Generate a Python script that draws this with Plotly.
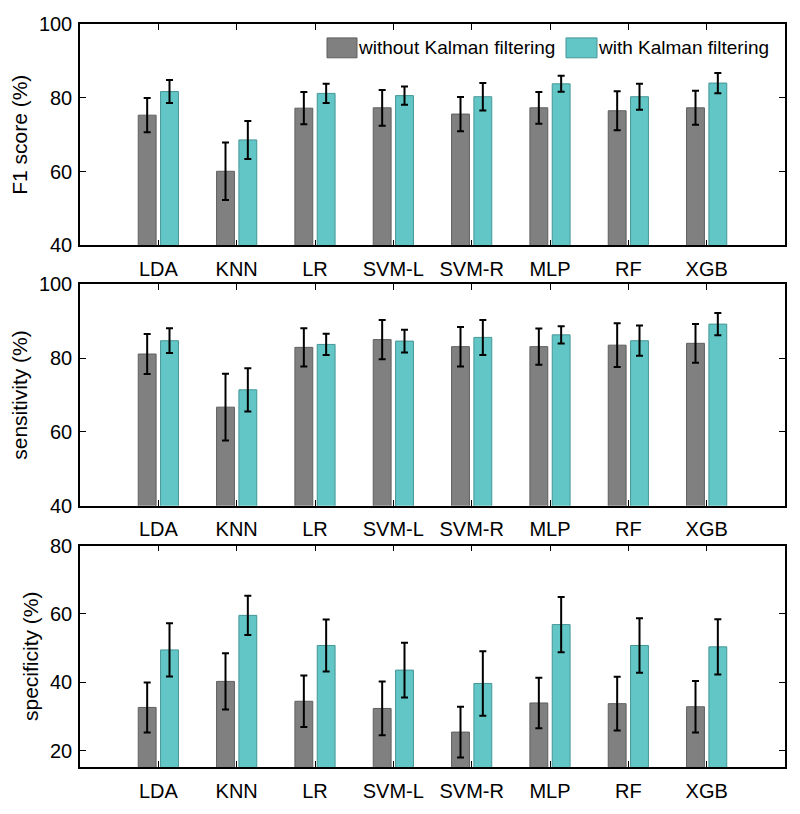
import plotly.graph_objects as go

categories = ["LDA", "KNN", "LR", "SVM-L", "SVM-R", "MLP", "RF", "XGB"]
series_names = ["without Kalman filtering", "with Kalman filtering"]

f1_without = [75.3, 60.1, 77.2, 77.3, 75.6, 77.3, 76.5, 77.3]
f1_without_err = [4.65, 7.8, 4.35, 4.85, 4.65, 4.3, 5.25, 4.6]
f1_with = [81.7, 68.6, 81.2, 80.6, 80.3, 83.8, 80.3, 84.0]
f1_with_err = [3.1, 5.15, 2.6, 2.5, 3.75, 2.15, 3.5, 2.75]

sens_without = [81.1, 66.7, 82.9, 85.0, 83.1, 83.1, 83.5, 84.0]
sens_without_err = [5.4, 9.05, 5.15, 5.35, 5.35, 4.9, 5.95, 5.25]
sens_with = [84.7, 71.4, 83.7, 84.6, 85.6, 86.3, 84.7, 89.2]
sens_with_err = [3.35, 5.85, 2.9, 3.1, 4.75, 2.35, 4.1, 3.0]

spec_without = [32.7, 40.3, 34.5, 32.4, 25.5, 34.0, 33.8, 32.9]
spec_without_err = [7.3, 8.2, 7.55, 7.85, 7.4, 7.4, 7.85, 7.5]
spec_with = [49.5, 59.6, 50.8, 43.6, 39.7, 56.9, 50.8, 50.4]
spec_with_err = [7.8, 5.75, 7.6, 8.0, 9.4, 8.05, 7.95, 8.05]

panel_titles = ["F1 score (%)", "sensitivity (%)", "specificity (%)"]
panel_ranges = [[40, 100], [40, 100], [15.3, 80]]
panel_ticks = [[40, 60, 80, 100], [40, 60, 80, 100], [20, 40, 60, 80]]

panels = [
    (f1_without, f1_without_err, f1_with, f1_with_err),
    (sens_without, sens_without_err, sens_with, sens_with_err),
    (spec_without, spec_without_err, spec_with, spec_with_err),
]

GRAY = "rgb(128,128,128)"
GRAY_EDGE = "rgb(95,95,95)"
TEAL = "rgb(99,198,198)"
TEAL_EDGE = "rgb(70,150,150)"
FONT = "Liberation Sans, Arial, sans-serif"

x_pos = list(range(1, len(categories) + 1))

fig = go.Figure()
domains = [[0.7019, 1.0], [0.3517, 0.6497], [0.0, 0.2981]]

for i, (a, ae, b, be) in enumerate(panels):
    n = "" if i == 0 else str(i + 1)
    fig.add_trace(go.Bar(
        x=x_pos, y=a, name=series_names[0], xaxis="x" + n, yaxis="y" + n,
        marker=dict(color=GRAY, line=dict(color=GRAY_EDGE, width=1)),
        error_y=dict(type="data", array=ae, color="black", thickness=2, width=3.5),
        showlegend=False,
    ))
    fig.add_trace(go.Bar(
        x=x_pos, y=b, name=series_names[1], xaxis="x" + n, yaxis="y" + n,
        marker=dict(color=TEAL, line=dict(color=TEAL_EDGE, width=1)),
        error_y=dict(type="data", array=be, color="black", thickness=2, width=3.5),
        showlegend=False,
    ))
    axis_common = dict(showline=True, linecolor="black", linewidth=1.5, mirror="ticks",
                       ticks="inside", ticklen=6, tickwidth=1.2, tickcolor="black",
                       showgrid=False, zeroline=False,
                       tickfont=dict(family=FONT, size=20, color="black"))
    fig.update_layout(**{
        "xaxis" + n: dict(axis_common, domain=[0, 1], range=[0, 9], tickmode="array",
                          tickvals=x_pos, ticktext=categories, anchor="y" + n,
                          ticklabelstandoff=5),
        "yaxis" + n: dict(axis_common, domain=domains[i], range=panel_ranges[i],
                          tickvals=panel_ticks[i], anchor="x" + n,
                          ticklabelstandoff=2,
                          title=dict(text=panel_titles[i], standoff=6,
                                     font=dict(family=FONT, size=21, color="black"))),
    })

# legend drawn manually inside the top panel
legend_items = [(series_names[0], GRAY, GRAY_EDGE, 327, 357), (series_names[1], TEAL, TEAL_EDGE, 566, 597)]
for label, fill, edge, x0, x1 in legend_items:
    fig.add_shape(type="rect", xref="paper", yref="paper",
                  x0=(x0 - 80) / 705, x1=(x1 - 80) / 705,
                  y0=(771 - 58) / 747, y1=(771 - 38) / 747,
                  fillcolor=fill, line=dict(color=edge, width=1))
    fig.add_annotation(xref="paper", yref="paper", x=(x1 - 1 - 80) / 705, y=(771 - 48) / 747,
                       text=label, showarrow=False, xanchor="left", yanchor="middle",
                       font=dict(family=FONT, size=19, color="black"))

fig.update_layout(
    width=800, height=814,
    margin=dict(l=80, r=15, t=24, b=43),
    barmode="group", bargap=0.43, bargroupgap=0.2,
    plot_bgcolor="white", paper_bgcolor="white",
    font=dict(family=FONT, size=20, color="black"),
)

fig.write_html("out.html", config={"displayModeBar": False},
               post_script="document.body.style.margin='0';document.body.style.padding='0';")
